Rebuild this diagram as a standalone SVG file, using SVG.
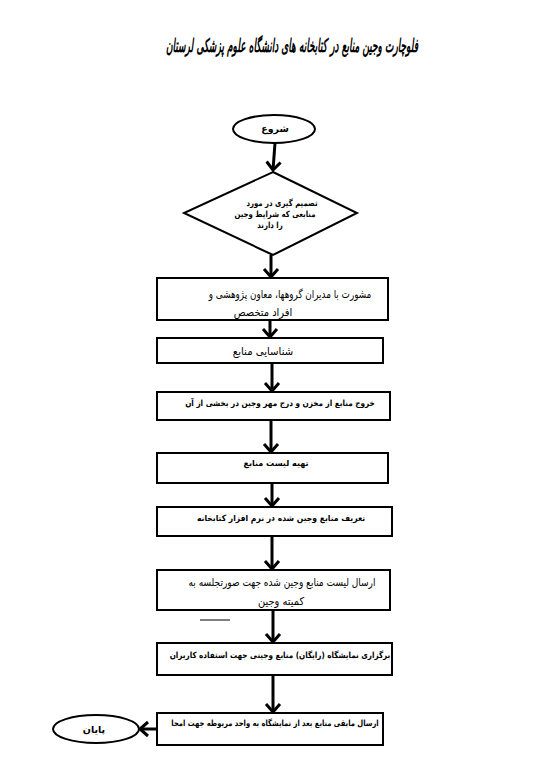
<svg xmlns="http://www.w3.org/2000/svg" width="551" height="781" viewBox="0 0 551 781">
<style>
.shape{fill:#fff;stroke:#000;stroke-width:2}
.conn{fill:none;stroke:#000;stroke-width:3}
text{font-family:"DejaVu Sans","Noto Sans",sans-serif;fill:#000;text-anchor:middle}
.b{font-size:8.5px;font-weight:bold}
.r{font-size:11px}
.e{font-size:9.5px;font-weight:bold}
.t{font-size:17px;font-weight:bold;font-style:italic}
</style>
<defs>
<marker id="ah" markerUnits="userSpaceOnUse" markerWidth="20" markerHeight="20" viewBox="-10 -10 20 20" refX="0" refY="0" orient="auto">
<path d="M-8,-7 L0,0 L-8,7" fill="none" stroke="#000" stroke-width="3"/>
</marker>
</defs>
<rect width="551" height="781" fill="#fff"/>
<text class="t" transform="translate(292,52) scale(0.53,1.1)">فلوچارت وجین منابع در کتابخانه های دانشگاه علوم پزشکی لرستان</text>
<g id="connectors">
<path class="conn" d="M275,143 L273,170" marker-end="url(#ah)"/>
<path class="conn" d="M271,255 L271,277" marker-end="url(#ah)"/>
<path class="conn" d="M270,320 L270,337" marker-end="url(#ah)"/>
<path class="conn" d="M272,363 L272,391" marker-end="url(#ah)"/>
<path class="conn" d="M271,420 L271,452" marker-end="url(#ah)"/>
<path class="conn" d="M272,483 L272,506" marker-end="url(#ah)"/>
<path class="conn" d="M272,536 L272,569" marker-end="url(#ah)"/>
<path class="conn" d="M273,610 L273,642" marker-end="url(#ah)"/>
<path class="conn" d="M273,675 L273,712" marker-end="url(#ah)"/>
<path class="conn" d="M157,729 L140,729" marker-end="url(#ah)"/>
<line x1="200" y1="620" x2="230" y2="620" stroke="#000" stroke-width="1"/>
</g>
<g id="start">
<ellipse class="shape" cx="274" cy="129" rx="41" ry="14"/>
<text class="e" x="275" y="132">شروع</text>
</g>
<g id="decision">
<polygon class="shape" points="273,172 357,213 273,255 184,213"/>
<text class="b" transform="translate(282,206) scale(0.82,1)">تصمیم گیری در مورد</text>
<text class="b" transform="translate(275,217) scale(0.82,1)">منابعی که شرایط وجین</text>
<text class="b" transform="translate(270,228) scale(0.82,1)">را دارند</text>
</g>
<g id="n1">
<rect class="shape" x="157" y="278" width="231" height="42"/>
<text class="r" transform="translate(290,298) scale(0.8,1)">مشورت با مدیران گروهها، معاون پژوهشی و</text>
<text class="r" transform="translate(263,316) scale(0.9,1)">افراد متخصص</text>
</g>
<g id="n2">
<rect class="shape" x="157" y="338" width="226" height="25"/>
<text class="r" transform="translate(263,355) scale(0.92,1)">شناسایی منابع</text>
</g>
<g id="n3">
<rect class="shape" x="157" y="392" width="233" height="28"/>
<text class="b" transform="translate(280,406) scale(0.86,1)">خروج منابع از مخزن و درج مهر وجین در بخشی از آن</text>
</g>
<g id="n4">
<rect class="shape" x="157" y="453" width="231" height="30"/>
<text class="b" transform="translate(276,466) scale(0.95,1)">تهیه لیست منابع</text>
</g>
<g id="n5">
<rect class="shape" x="157" y="507" width="235" height="29"/>
<text class="b" transform="translate(281,521) scale(0.9,1)">تعریف منابع وجین شده در نرم افزار کتابخانه</text>
</g>
<g id="n6">
<rect class="shape" x="157" y="570" width="233" height="40"/>
<text class="r" transform="translate(282,586) scale(0.82,1)">ارسال لیست منابع وجین شده جهت صورتجلسه به</text>
<text class="r" transform="translate(281,605) scale(0.9,1)">کمیته وجین</text>
</g>
<g id="n7">
<rect class="shape" x="157" y="643" width="235" height="32"/>
<text class="b" transform="translate(280,658) scale(0.85,1)">برگزاری نمایشگاه (رایگان) منابع وجینی جهت استفاده کاربران</text>
</g>
<g id="n8">
<rect class="shape" x="157" y="713" width="226" height="32"/>
<text class="b" transform="translate(275,726) scale(0.8,1)">ارسال مابقی منابع بعد از نمایشگاه به واحد مربوطه جهت امحا</text>
</g>
<g id="end">
<ellipse class="shape" cx="96" cy="729" rx="43" ry="14"/>
<text class="e" x="94" y="733">پایان</text>
</g>
</svg>
